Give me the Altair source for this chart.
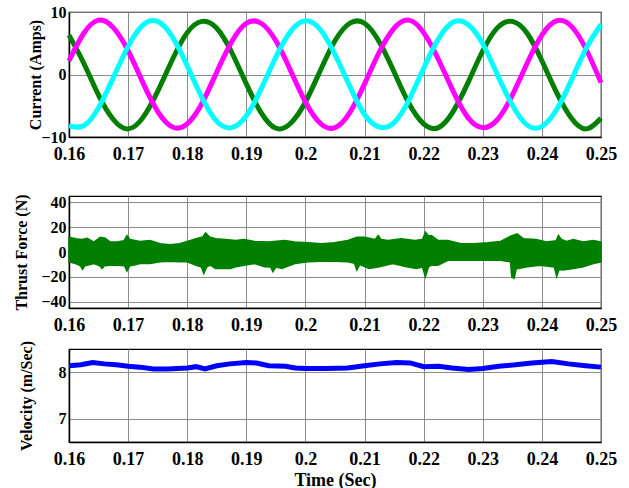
import altair as alt
import pandas as pd

# ---------------- data ----------------
x_ticks = [0.16, 0.17, 0.18, 0.19, 0.2, 0.21, 0.22, 0.23, 0.24, 0.25]

cur_t = [0.16, 0.1625, 0.165, 0.1675, 0.17, 0.1725, 0.175, 0.1775, 0.18, 0.1825,
         0.185, 0.1875, 0.19, 0.1925, 0.195, 0.1975, 0.2, 0.2025, 0.205, 0.2075,
         0.21, 0.2125, 0.215, 0.2175, 0.22, 0.2225, 0.225, 0.2275, 0.23, 0.2325,
         0.235, 0.2375, 0.24, 0.2425, 0.245, 0.2475, 0.25]
cur_green = [6.3, 1.8, -3.3, -7.2, -8.7, -6.9, -2.7, 2.4, 6.7, 8.5, 7.4, 3.6, -1.5,
             -6.1, -8.6, -7.8, -4.4, 0.6, 5.4, 8.2, 8.2, 5.2, 0.4, -4.6, -7.9, -8.5,
             -5.9, -1.3, 3.8, 7.5, 8.5, 6.6, 2.2, -2.9, -7.0, -8.7, -7.0]
cur_magenta = [2.2, 6.6, 8.7, 7.5, 3.8, -1.3, -5.9, -8.4, -7.9, -4.6, 0.4, 5.2, 8.2,
               8.2, 5.4, 0.6, -4.4, -7.8, -8.5, -6.1, -1.5, 3.6, 7.4, 8.7, 6.7, 2.4,
               -2.7, -6.9, -8.5, -7.2, -3.3, 1.8, 6.3, 8.6, 7.7, 4.0, -1.3]
cur_cyan = [-8.2, -8.2, -5.3, -0.5, 4.5, 7.9, 8.5, 6.0, 1.4, -3.7, -7.5, -8.5, -6.6,
            -2.3, 2.8, 6.9, 8.6, 7.2, 3.2, -1.9, -6.4, -8.4, -7.7, -4.1, 1.0, 5.7,
            8.4, 8.0, 4.9, -0.1, -4.9, -8.1, -8.3, -5.6, -0.9, 4.2, 8.0]

thr_hi_t = [0.160, 0.1611, 0.1622, 0.1631, 0.1642, 0.1653, 0.1661, 0.167, 0.1681, 0.1693,
            0.1698, 0.1703, 0.172, 0.1737, 0.1754, 0.1771, 0.1787, 0.18, 0.1815, 0.1826,
            0.1831, 0.1838, 0.1848, 0.1865, 0.1882, 0.1896, 0.1914, 0.1937, 0.1965, 0.1982,
            0.2004, 0.2027, 0.2049, 0.2072, 0.2087, 0.21, 0.2118, 0.2123, 0.2128, 0.214,
            0.2162, 0.2185, 0.2198, 0.2203, 0.2208, 0.2213, 0.2224, 0.2241, 0.2263, 0.2285,
            0.2308, 0.233, 0.2347, 0.2358, 0.2369, 0.239, 0.2408, 0.2424, 0.2428, 0.2433,
            0.2442, 0.2453, 0.247, 0.2487, 0.25]
thr_hi = [11.9, 10.6, 10, 11, 8, 11.9, 11, 8, 8, 9,
          13.2, 10, 8.5, 9.3, 6.6, 5.8, 6.6, 8.5, 10.6, 12,
          15.3, 12, 10.6, 10, 9.3, 10, 8.5, 8, 9.3, 8,
          7.4, 6.6, 7.4, 9.3, 11.9, 11.9, 10, 13.2, 10, 9.3,
          10.6, 9.3, 10, 15.9, 13, 13.2, 9.3, 9.3, 6.6, 6.6,
          7.4, 8.5, 12.7, 14.5, 10.6, 10, 8, 9, 13.2, 10,
          8.5, 10, 8, 9.3, 8]
thr_lo_t = [0.160, 0.1611, 0.1619, 0.1623, 0.1627, 0.1631, 0.1642, 0.1652, 0.1656, 0.166,
            0.167, 0.1684, 0.1694, 0.1698, 0.1703, 0.1709, 0.172, 0.1737, 0.1754, 0.1771,
            0.1787, 0.18, 0.1815, 0.1824, 0.1828, 0.1833, 0.1839, 0.1848, 0.1862, 0.1873,
            0.1882, 0.1896, 0.1914, 0.1931, 0.1941, 0.1945, 0.195, 0.196, 0.1982, 0.2004,
            0.2027, 0.2049, 0.2072, 0.2083, 0.2087, 0.2092, 0.2108, 0.2125, 0.2148, 0.2171,
            0.2188, 0.2198, 0.2203, 0.2208, 0.2213, 0.2224, 0.2241, 0.2263, 0.2285, 0.2308,
            0.233, 0.2347, 0.2349, 0.2353, 0.2357, 0.2361, 0.2375, 0.2397, 0.2421, 0.2425,
            0.2429, 0.2436, 0.2453, 0.247, 0.2487, 0.25]
thr_lo = [-7.9, -9.3, -11, -14, -11, -10.6, -9.3, -11, -13.2, -11,
          -10.6, -10.6, -11, -15.3, -11, -10.6, -9.3, -9.3, -7.9, -7.4,
          -7.9, -7.9, -10.6, -12, -17.2, -12, -10.6, -13.2, -13.2, -13.2,
          -11.9, -10.6, -9.3, -11.9, -12, -15.9, -12, -13.2, -9.3, -7.9,
          -7.4, -7.4, -7.9, -9, -14.5, -10, -13.2, -11.9, -9.3, -11.9,
          -13.2, -12, -19.8, -12, -10.6, -10.6, -6.6, -6.6, -6.6, -6.6,
          -6.6, -7.9, -20, -21.2, -13, -13.2, -11.9, -10.6, -12, -19.8,
          -14, -14.5, -13.2, -11.9, -9.3, -7.9]

vel_t = [0.16, 0.162, 0.164, 0.166, 0.168, 0.17, 0.172, 0.1743, 0.1766, 0.18,
         0.1815, 0.183, 0.185, 0.1872, 0.19, 0.1917, 0.1938, 0.1966, 0.1983, 0.2,
         0.2034, 0.2071, 0.21, 0.2126, 0.2154, 0.2177, 0.22, 0.2225, 0.2248, 0.2276,
         0.23, 0.2327, 0.2355, 0.2383, 0.2417, 0.2445, 0.2474, 0.25]
vel = [8.14, 8.16, 8.21, 8.18, 8.16, 8.13, 8.11, 8.07, 8.07, 8.09,
       8.12, 8.07, 8.14, 8.18, 8.21, 8.20, 8.14, 8.13, 8.09, 8.08,
       8.08, 8.09, 8.14, 8.18, 8.21, 8.20, 8.12, 8.13, 8.09, 8.06,
       8.08, 8.13, 8.16, 8.20, 8.23, 8.18, 8.14, 8.11]

# ---------------- styling ----------------
FONT = "Liberation Serif"
W = 532
H1, H2, H3 = 125, 112, 93
GREEN = "#007f00"


def xenc(title=None):
    return alt.X(
        "t:Q",
        scale=alt.Scale(domain=[0.16, 0.25], nice=False, zero=False),
        axis=alt.Axis(values=x_ticks, format=".2~f", labelFlush=False, ticks=False,
                      labelPadding=8, labelFontSize=18, title=title,
                      titleFontSize=18, titlePadding=3),
    )


def yaxis(values, title, tx, h):
    return alt.Axis(values=values, title=title, ticks=False, labelPadding=3,
                    labelFontSize=16, titleFontSize=16, titleAngle=270,
                    titleX=tx, titleY=h / 2)


# Panel 1: currents
cdf = pd.DataFrame({"t": cur_t, "g": cur_green, "m": cur_magenta, "c": cur_cyan})
ax1 = yaxis([-10, 0, 10], "Current (Amps)", -26, H1)
sc1 = alt.Scale(domain=[-10, 10], nice=False)
layers = []
for f, col in [("g", GREEN), ("m", "#ff00ff"), ("c", "#00ffff")]:
    layers.append(
        alt.Chart(cdf).mark_line(color=col, strokeWidth=5, interpolate="natural")
        .encode(x=xenc(), y=alt.Y(f"{f}:Q", scale=sc1, axis=ax1))
    )
p1 = alt.layer(*layers).properties(width=W, height=H1)

# Panel 2: thrust force
hdf = pd.DataFrame({"t": thr_hi_t, "v": thr_hi})
ldf = pd.DataFrame({"t": thr_lo_t, "v": thr_lo})
ax2 = yaxis([-40, -20, 0, 20, 40], "Thrust Force (N)", -40, H2)
sc2 = alt.Scale(domain=[-45, 45], nice=False)
a_hi = alt.Chart(hdf).mark_area(color=GREEN, stroke=GREEN, strokeWidth=1.5, opacity=1).encode(
    x=xenc(), y=alt.Y("v:Q", scale=sc2, axis=ax2), y2=alt.datum(0))
a_lo = alt.Chart(ldf).mark_area(color=GREEN, stroke=GREEN, strokeWidth=1.5, opacity=1).encode(
    x=xenc(), y=alt.Y("v:Q", scale=sc2, axis=ax2), y2=alt.datum(0))
p2 = alt.layer(a_hi, a_lo).properties(width=W, height=H2)

# Panel 3: velocity
vdf = pd.DataFrame({"t": vel_t, "v": vel})
ax3 = yaxis([7, 8], "Velocity (m/Sec)", -35, H3)
sc3 = alt.Scale(domain=[6.5, 8.5], nice=False, zero=False)
p3 = alt.Chart(vdf).mark_line(color="#0000ff", strokeWidth=5).encode(
    x=xenc("Time (Sec)"), y=alt.Y("v:Q", scale=sc3, axis=ax3)
).properties(width=W, height=H3)

chart = alt.vconcat(
    p1,
    alt.vconcat(p2, p3, spacing=41, bounds="flush"),
    spacing=59,
    bounds="flush",
).properties(
    padding={"left": 12, "top": 3, "right": 5, "bottom": 2},
    background="white",
).configure_view(
    stroke="black", strokeWidth=1.2
).configure_axis(
    labelFont=FONT, labelFontWeight="bold", labelColor="black",
    titleFont=FONT, titleFontWeight="bold", titleColor="black",
    domainColor="black", domainWidth=1.5,
    gridColor="#808080", gridWidth=1, gridOpacity=0.9,
)

chart.save("out.html", embed_options={"renderer": "svg", "actions": False})
